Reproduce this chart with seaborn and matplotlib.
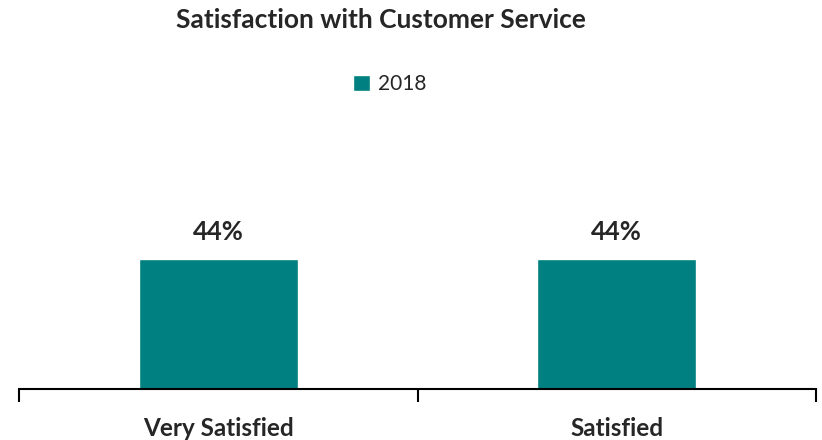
import matplotlib
matplotlib.use("Agg")
import matplotlib.pyplot as plt
import seaborn as sns
import pandas as pd

categories = ["Very Satisfied", "Satisfied"]
values_2018 = [44, 44]
series_name = "2018"

df = pd.DataFrame({"category": categories, "value": values_2018, "series": series_name})

sns.set_theme(style="white")
plt.rcParams['font.family'] = ['Lato', 'DejaVu Sans']

fig = plt.figure(figsize=(8.22, 4.40), dpi=100)
W, H = 822, 440
ax = fig.add_axes([19 / W, (H - 389) / H, (816 - 19) / W, (389 - 94) / H])

sns.barplot(data=df, x="category", y="value", hue="series", palette=["#008080"],
            width=0.4, ax=ax, saturation=1, legend=True)

ax.set_ylim(0, 100)
ax.set_xlim(-0.5, 1.5)
for s in ["top", "right", "left"]:
    ax.spines[s].set_visible(False)
ax.spines["bottom"].set_color("black")
ax.spines["bottom"].set_linewidth(1.5)
ax.set_yticks([])
ax.set_xlabel("")
ax.set_ylabel("")

ax.tick_params(axis="x", which="major", length=0, pad=20, labelsize=17.5, bottom=True)
for lbl in ax.get_xticklabels():
    lbl.set_fontweight("bold")
ax.set_xticks([-0.5, 0.5, 1.5], minor=True)
ax.tick_params(axis="x", which="minor", length=9, width=1.5, color="black",
               direction="out", bottom=True)

for c in ax.containers:
    texts = ax.bar_label(c, labels=[f"{v}%" for v in values_2018], padding=11,
                         fontsize=18.5)
    for t in texts:
        t.set_fontweight("bold")

leg = ax.legend(loc="center", bbox_to_anchor=(390 / W, (H - 84) / H),
                bbox_transform=fig.transFigure, frameon=False, fontsize=15,
                handlelength=0.8, handleheight=0.8, handletextpad=0.4)

fig.text(381 / W, (H - 20) / H, "Satisfaction with Customer Service",
         ha="center", va="center", fontsize=19, fontweight="bold")

fig.savefig("out.png", dpi=100)
